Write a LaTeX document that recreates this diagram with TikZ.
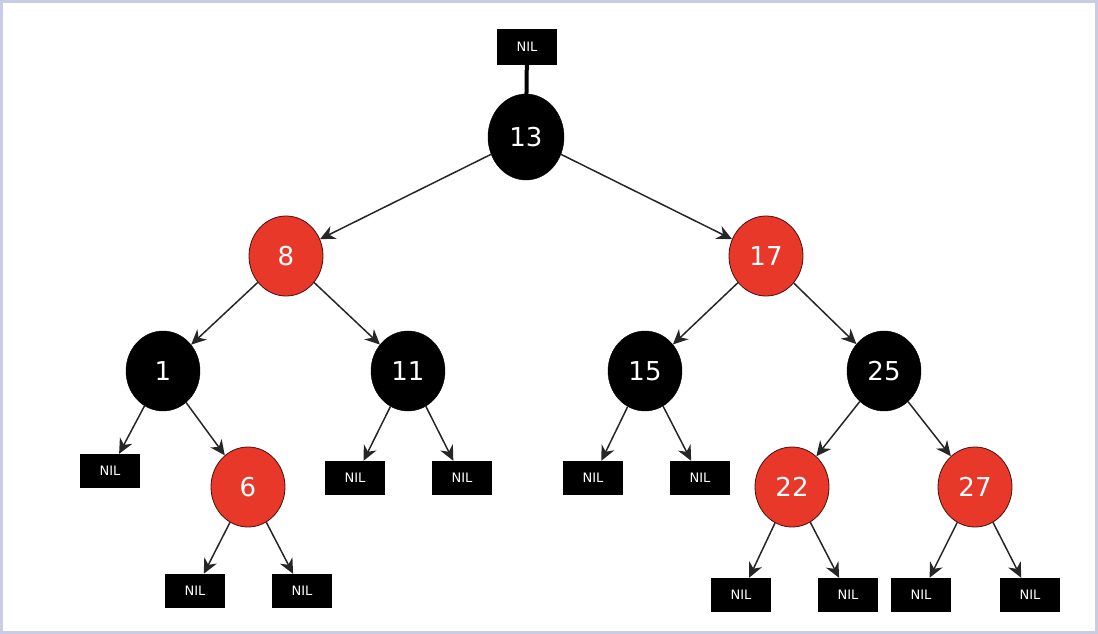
\documentclass[tikz,border=0pt]{standalone}
\usepackage{fontspec}
\setmainfont{DejaVu Sans}
\usetikzlibrary{arrows.meta,shapes.geometric}
\definecolor{rbred}{HTML}{E8382A}
\definecolor{frame}{HTML}{C8CCE4}
\begin{document}
\begin{tikzpicture}[x=1pt,y=-1pt,
  bn/.style={ellipse,draw=black,fill=black,text=white,minimum width=74pt,minimum height=80pt,inner sep=0pt,font=\fontsize{26}{26}\selectfont},
  rn/.style={bn,fill=rbred,draw=black!70!rbred,line width=0.8pt},
  nil/.style={rectangle,fill=black,text=white,minimum width=60pt,minimum height=34pt,inner sep=0pt,font=\fontsize{13}{13}\selectfont},
  e/.style={draw=black!85,line width=1.5pt,-{Stealth[length=15pt,width=14pt]}}]
\useasboundingbox (0,0) rectangle (1098,634);
\draw[frame,line width=3pt] (1.5,1.5) rectangle (1096.5,632.5);
\node[bn,minimum width=76pt,minimum height=86pt] (n13) at (526,137) {13};
\node[nil,minimum height=36pt] (t) at (527,47) {NIL};
\draw[black,line width=4pt] (t) -- (n13);
\node[rn] (n8) at (286,256) {8};
\node[rn] (n17) at (766,256) {17};
\node[bn] (n1) at (163,371) {1};
\node[bn] (n11) at (408,371) {11};
\node[bn] (n15) at (645,371) {15};
\node[bn] (n25) at (884,371) {25};
\node[rn] (n6) at (248,487) {6};
\node[rn] (n22) at (792,487) {22};
\node[rn] (n27) at (975,487) {27};
\node[nil] (a) at (110,471) {NIL};
\node[nil] (b) at (195,591) {NIL};
\node[nil] (c) at (302,591) {NIL};
\node[nil] (d) at (355,478) {NIL};
\node[nil] (f) at (462,478) {NIL};
\node[nil] (g) at (593,478) {NIL};
\node[nil] (h) at (700,478) {NIL};
\node[nil] (i) at (741,595) {NIL};
\node[nil] (j) at (848,595) {NIL};
\node[nil] (k) at (921,595) {NIL};
\node[nil] (l) at (1030,595) {NIL};
\foreach \u/\v in {n13/n8,n13/n17,n8/n1,n8/n11,n17/n15,n17/n25,n1/a,n1/n6,n6/b,n6/c,n11/d,n11/f,n15/g,n15/h,n25/n22,n25/n27,n22/i,n22/j,n27/k,n27/l}
  \draw[e] (\u) -- (\v);
\end{tikzpicture}
\end{document}
